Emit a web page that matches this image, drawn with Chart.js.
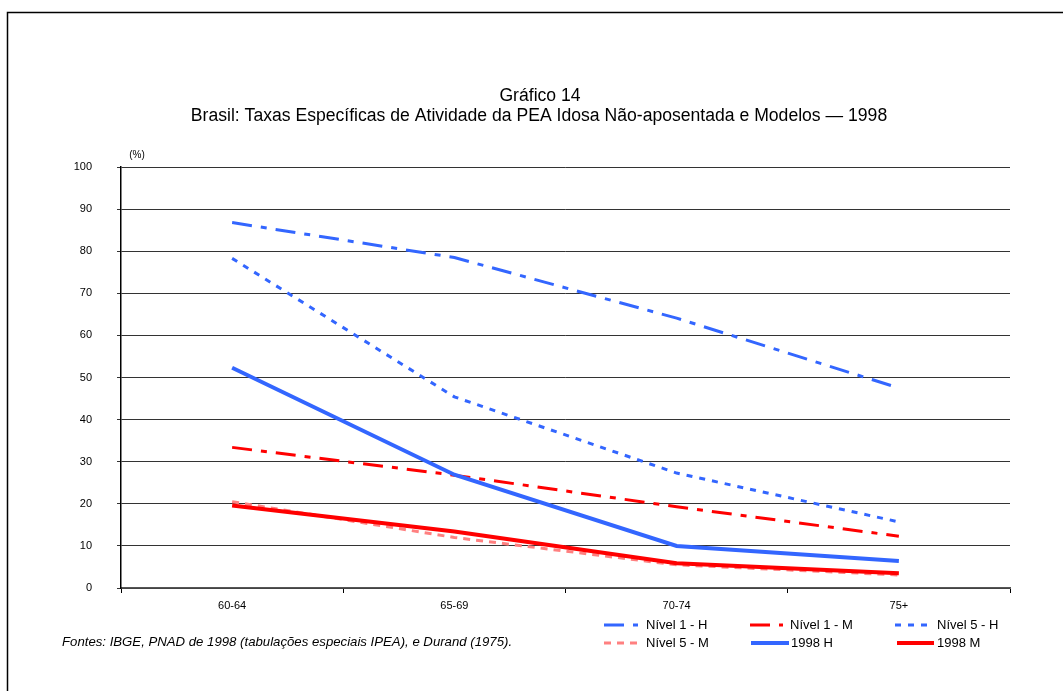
<!DOCTYPE html>
<html>
<head>
<meta charset="utf-8">
<script src="https://cdn.jsdelivr.net/npm/chart.js@4/dist/chart.umd.min.js"></script>
<style>
html,body{margin:0;padding:0;background:#fff;}
#wrap{position:relative;width:1063px;height:691px;}
</style>
</head>
<body>
<div id="wrap"><canvas id="c" width="1063" height="691"></canvas></div>
<script>
const categories = ["60-64", "65-69", "70-74", "75+"];
const yTicks = [0, 10, 20, 30, 40, 50, 60, 70, 80, 90, 100];
const nivel1H = [86.8, 78.5, 64.1, 47.5];
const nivel1M = [33.4, 26.8, 19.3, 12.3];
const nivel5H = [78.3, 45.4, 27.3, 15.7];
const nivel5M = [20.5, 12.0, 5.5, 3.1];
const h1998 = [52.3, 26.9, 10.0, 6.4];
const m1998 = [19.6, 13.4, 5.9, 3.5];
const titleLines = ["Gráfico 14", "Brasil: Taxas Específicas de Atividade da PEA Idosa Não-aposentada e Modelos — 1998"];
const footnote = "Fontes: IBGE, PNAD de 1998 (tabulações especiais IPEA), e Durand (1975).";

const BLUE = "#3366FF", RED = "#FF0000", PINK = "#FF8080";
const FONT = "'Liberation Sans', Arial, sans-serif";

const datasets = [
  {label:"Nível 1 - H", data:nivel1H, borderColor:BLUE, borderWidth:3, borderDash:[20,9,6,9], order:5},
  {label:"Nível 1 - M", data:nivel1M, borderColor:RED, borderWidth:3, borderDash:[20,9,6,9], order:4},
  {label:"Nível 5 - H", data:nivel5H, borderColor:BLUE, borderWidth:3, borderDash:[6,7], order:3},
  {label:"Nível 5 - M", data:nivel5M, borderColor:PINK, borderWidth:3, borderDash:[7,6], order:6},
  {label:"1998 H", data:h1998, borderColor:BLUE, borderWidth:4, borderDash:[], order:1},
  {label:"1998 M", data:m1998, borderColor:RED, borderWidth:4, borderDash:[], order:0}
].map(d => Object.assign({pointRadius:0, pointHoverRadius:0, fill:false, tension:0, borderCapStyle:'butt'}, d));

const legendPos = [
  {x1:604, x2:638, tx:646, y:625},
  {x1:750, x2:783, tx:790, y:625},
  {x1:895, x2:932, tx:937, y:625},
  {x1:604, x2:641, tx:646, y:643},
  {x1:751, x2:789, tx:791, y:643},
  {x1:897, x2:934, tx:937, y:643}
];

const decor = {
  id:'decor',
  beforeDraw(chart){
    const ctx = chart.ctx;
    ctx.save();
    ctx.fillStyle = '#fff';
    ctx.fillRect(0,0,chart.width,chart.height);
    ctx.restore();
  },
  afterDraw(chart){
    const ctx = chart.ctx;
    ctx.save();
    // frame
    ctx.strokeStyle = '#000';
    ctx.lineWidth = 1.5;
    ctx.beginPath();
    ctx.moveTo(7.5, 691);
    ctx.lineTo(7.5, 12.5);
    ctx.lineTo(1063, 12.5);
    ctx.stroke();
    // title
    ctx.fillStyle = '#000';
    ctx.textAlign = 'center';
    ctx.textBaseline = 'middle';
    ctx.font = "17.6px " + FONT;
    ctx.fillText(titleLines[0], 540, 96);
    ctx.fillText(titleLines[1], 539, 116);
    // (%)
    ctx.font = "10px " + FONT;
    ctx.fillText("(%)", 137, 155);
    // footnote
    ctx.textAlign = 'left';
    ctx.font = "italic 13.2px " + FONT;
    ctx.fillText(footnote, 62, 642);
    // legend
    ctx.font = "13px " + FONT;
    chart.data.datasets.forEach((ds, i) => {
      const p = legendPos[i];
      ctx.strokeStyle = ds.borderColor;
      ctx.lineWidth = ds.borderWidth;
      ctx.setLineDash(ds.borderDash || []);
      ctx.beginPath();
      ctx.moveTo(p.x1, p.y);
      ctx.lineTo(p.x2, p.y);
      ctx.stroke();
      ctx.setLineDash([]);
      ctx.fillStyle = '#000';
      ctx.fillText(ds.label, p.tx, p.y);
    });
    ctx.restore();
  }
};

new Chart(document.getElementById('c'), {
  type:'line',
  data:{labels:categories, datasets:datasets},
  options:{
    responsive:false,
    animation:false,
    events:[],
    layout:{padding:{top:167, right:53, bottom:73, left:0}},
    plugins:{legend:{display:false}, tooltip:{enabled:false}, title:{display:false}},
    scales:{
      x:{
        type:'category',
        offset:true,
        afterFit(s){ s.height = 30; },
        grid:{display:true, offset:true, drawOnChartArea:false, drawTicks:true, tickLength:5, color:'#000', lineWidth:1},
        border:{display:true, color:'#555', width:1.5},
        ticks:{font:{family:FONT, size:11}, color:'#000', padding:6, maxRotation:0}
      },
      y:{
        min:0, max:100,
        afterFit(s){ s.width = 121; },
        afterBuildTicks(s){ s.ticks = yTicks.map(v => ({value:v})); },
        grid:{display:true, drawOnChartArea:true, drawTicks:true, tickLength:4, color:'#333', lineWidth:1},
        border:{display:true, color:'#000', width:1.5},
        ticks:{font:{family:FONT, size:11}, color:'#000', padding:25}
      }
    }
  },
  plugins:[decor]
});
</script>
</body>
</html>
